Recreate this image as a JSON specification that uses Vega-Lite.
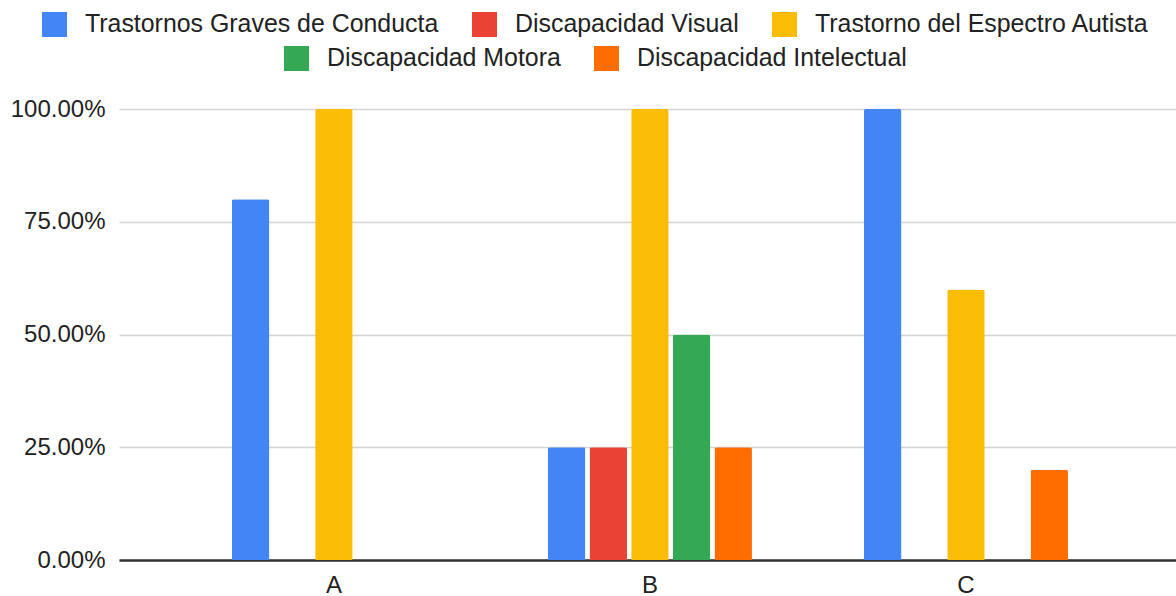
{
  "$schema": "https://vega.github.io/schema/vega-lite/v6.json",
  "width": 1057,
  "height": 451,
  "autosize": {"type": "none"},
  "padding": {"left": 119, "top": 109, "right": 0, "bottom": 36},
  "background": "white",
  "data": {
    "values": [
      {"grupo": "A", "serie": "Trastornos Graves de Conducta", "valor": 0.8},
      {"grupo": "A", "serie": "Trastorno del Espectro Autista", "valor": 1.0},
      {"grupo": "B", "serie": "Trastornos Graves de Conducta", "valor": 0.25},
      {"grupo": "B", "serie": "Discapacidad Visual", "valor": 0.25},
      {"grupo": "B", "serie": "Trastorno del Espectro Autista", "valor": 1.0},
      {"grupo": "B", "serie": "Discapacidad Motora", "valor": 0.5},
      {"grupo": "B", "serie": "Discapacidad Intelectual", "valor": 0.25},
      {"grupo": "C", "serie": "Trastornos Graves de Conducta", "valor": 1.0},
      {"grupo": "C", "serie": "Trastorno del Espectro Autista", "valor": 0.6},
      {"grupo": "C", "serie": "Discapacidad Intelectual", "valor": 0.2}
    ]
  },
  "encoding": {
    "x": {
      "field": "grupo",
      "type": "nominal",
      "scale": {"paddingInner": 0.3544, "paddingOuter": 0.3495, "align": 0.511},
      "axis": {
        "title": null,
        "labelAngle": 0,
        "labelFontSize": 24,
        "labelFont": "Liberation Sans",
        "labelColor": "#222222",
        "labelPadding": 13,
        "ticks": false,
        "domainColor": "#333333",
        "domainWidth": 2.5,
        "grid": false
      }
    },
    "xOffset": {
      "field": "serie",
      "type": "nominal",
      "scale": {
        "domain": ["Trastornos Graves de Conducta", "Discapacidad Visual", "Trastorno del Espectro Autista", "Discapacidad Motora", "Discapacidad Intelectual"],
        "paddingInner": 0.1,
        "paddingOuter": 0
      }
    },
    "y": {
      "field": "valor",
      "type": "quantitative",
      "scale": {"domain": [0, 1], "nice": false},
      "axis": {
        "title": null,
        "values": [0, 0.25, 0.5, 0.75, 1],
        "format": ".2%",
        "labelFontSize": 24,
        "labelFont": "Liberation Sans",
        "labelColor": "#222222",
        "labelPadding": 14,
        "ticks": false,
        "domain": false,
        "gridColor": "#d3d3d3",
        "gridWidth": 1.5
      }
    }
  },
  "layer": [
    {
      "transform": [
        {"filter": {"field": "serie", "oneOf": ["Trastornos Graves de Conducta", "Discapacidad Visual", "Trastorno del Espectro Autista"]}}
      ],
      "mark": {"type": "bar", "cornerRadiusEnd": 2},
      "encoding": {
        "color": {
          "field": "serie",
          "type": "nominal",
          "scale": {
            "domain": ["Trastornos Graves de Conducta", "Discapacidad Visual", "Trastorno del Espectro Autista"],
            "range": ["#4285F4", "#EA4335", "#FBBC04"]
          },
          "legend": {"orient": "none", "legendX": -77, "legendY": -97, "direction": "horizontal", "title": null}
        }
      }
    },
    {
      "transform": [
        {"filter": {"field": "serie", "oneOf": ["Discapacidad Motora", "Discapacidad Intelectual"]}}
      ],
      "mark": {"type": "bar", "cornerRadiusEnd": 2},
      "encoding": {
        "fill": {
          "field": "serie",
          "type": "nominal",
          "scale": {
            "domain": ["Discapacidad Motora", "Discapacidad Intelectual"],
            "range": ["#34A853", "#FF6D01"]
          },
          "legend": {"orient": "none", "legendX": 165, "legendY": -63, "direction": "horizontal", "title": null}
        }
      }
    }
  ],
  "config": {
    "view": {"stroke": null},
    "legend": {
      "labelFont": "Liberation Sans",
      "labelFontSize": 24.9,
      "labelColor": "#222222",
      "symbolType": "square",
      "symbolSize": 625,
      "symbolStrokeWidth": 0,
      "labelOffset": 18,
      "columnPadding": 33,
      "padding": 0,
      "labelLimit": 600
    }
  }
}
